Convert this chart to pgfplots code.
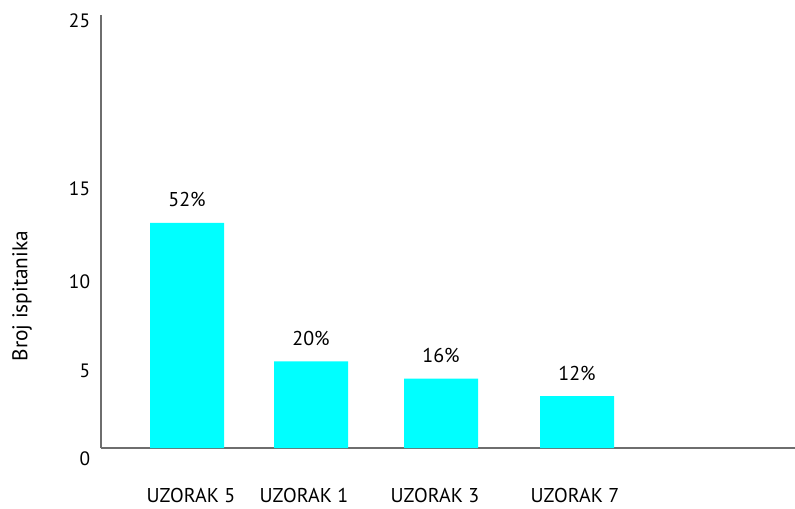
\documentclass[border=0pt]{standalone}
\usepackage{pgfplots}
\pgfplotsset{compat=1.18}
\usepackage{fontspec}
\setmainfont{PT Sans}
\definecolor{barcyan}{HTML}{00FFFF}
\definecolor{axgray}{HTML}{6E6E6E}
\begin{document}
\begin{tikzpicture}
\useasboundingbox (0,0) rectangle (596.25pt,381pt);
\begin{axis}[
  at={(75.75pt,37.2pt)}, anchor=south west,
  scale only axis, width=520.5pt, height=332.55pt,
  xmin=101, xmax=795, ymin=-0.6, ymax=25,
  axis x line=middle, axis y line=left,
  axis line style={axgray, line width=1.1pt, -},
  y axis line style={shorten <=7.8pt},
  major tick length=0pt,
  xtick={191,304,435,575},
  xticklabels={UZORAK 5,UZORAK 1,UZORAK 3,UZORAK 7},
  xticklabel style={anchor=center, yshift=-35.25pt, font=\fontsize{15}{17}\selectfont},
  ytick={-0.6,4.45,9.61,14.98,24.65},
  yticklabels={0,5,10,15,25},
  yticklabel style={anchor=east, inner sep=0pt, xshift=-8pt, font=\fontsize{14.5}{17}\selectfont},
  ylabel={Broj ispitanika},
  ylabel style={at={(rel axis cs:0,0.366)}, anchor=center, yshift=59.25pt, font=\fontsize{16}{18}\selectfont},
  clip=false,
]
\addplot[ybar, bar width=55.5pt, fill=barcyan, draw=none,
  point meta=explicit symbolic,
  nodes near coords={\pgfplotspointmeta},
  nodes near coords style={anchor=center, yshift=17.25pt, font=\fontsize{15}{17}\selectfont, text=black}]
  table[meta=lab] {
x y lab
187 13 52\%
311 5 20\%
441 4 16\%
577 3 12\%
};
\end{axis}
\end{tikzpicture}
\end{document}
